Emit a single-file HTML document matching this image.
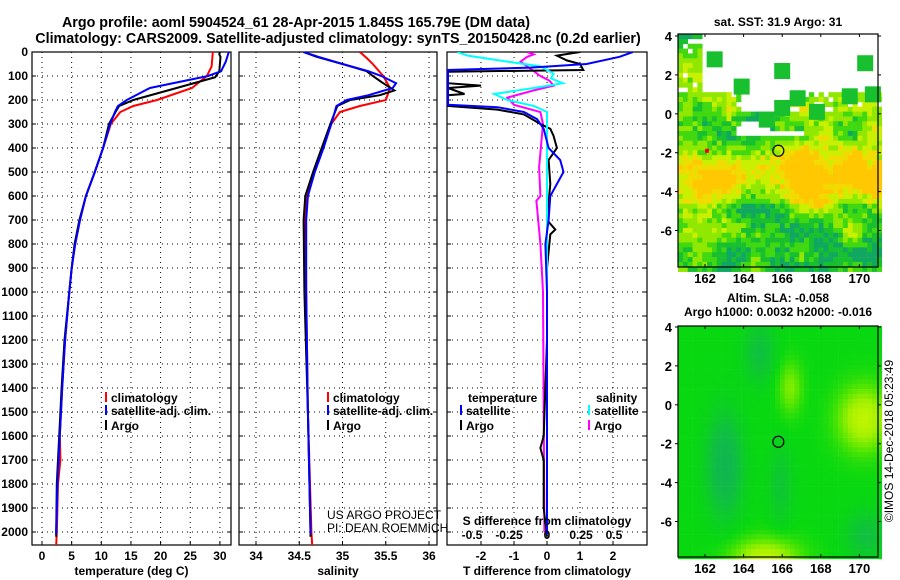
<!DOCTYPE html>
<html><head><meta charset="utf-8"><style>
body{margin:0;background:#fff}
svg{display:block;font-family:"Liberation Sans",sans-serif}
.t{font-weight:bold;font-size:12px}
.h{font-weight:bold;font-size:14.3px}
</style></head><body>
<svg id="s" width="900" height="580" viewBox="0 0 900 580"></svg>
<script>
// ---- data ----
const depthTicks=[0,100,200,300,400,500,600,700,800,900,1000,1100,1200,1300,1400,1500,1600,1700,1800,1900,2000];
const tempTicks=[0,5,10,15,20,25,30];
const salTicks=[34,34.5,35,35.5,36];
const tdTicks=[-2,-1,0,1,2];
const sdTickLabels=["-0.5","-0.25","0","0.25","0.5"];
const sdTicks=[-0.5,-0.25,0,0.25,0.5];
const lonTicks=[162,164,166,168,170];
const latTicks=[4,2,0,-2,-4,-6];

const tempClim=[[0,28.8],[60,28.6],[100,27.8],[150,25.3],[200,19.4],[225,15.4],[250,13.2],[300,11.6],[400,10.3],[500,8.9],[600,7.4],[700,6.4],[800,5.6],[900,5.0],[1000,4.6],[1200,3.9],[1400,3.4],[1600,3.0],[1700,3.1],[1800,2.7],[2000,2.5],[2055,2.4]];
const tempSat=[[0,31.5],[40,31],[80,30.2],[100,28],[150,18.2],[200,14.3],[225,12.8],[250,12.3],[300,11.5],[400,10.3],[500,8.9],[600,7.4],[700,6.4],[800,5.6],[900,5.0],[1000,4.6],[1200,3.9],[1400,3.4],[1600,3.0],[1800,2.6],[2000,2.4],[2010,2.4]];
const tempArgo=[[0,30],[10,29.9],[20,30.1],[80,29.9],[105,29.2],[150,22.7],[200,15.4],[225,13],[250,12.4],[300,11.3],[400,10.3],[500,8.9],[600,7.4],[700,6.3],[800,5.5],[900,5.0],[1000,4.6],[1200,3.8],[1400,3.3],[1600,2.9],[1800,2.5],[2000,2.4],[2020,2.4]];

const salClim=[[0,35.2],[25,35.28],[50,35.35],[100,35.47],[150,35.55],[200,35.5],[225,35.2],[250,34.97],[300,34.87],[400,34.77],[500,34.67],[600,34.59],[700,34.57],[1000,34.58],[1500,34.6],[2000,34.64],[2055,34.65]];
const salSat=[[0,34.55],[20,34.72],[50,35.0],[80,35.3],[100,35.45],[130,35.62],[150,35.58],[180,35.3],[200,35.05],[225,34.93],[300,34.87],[400,34.78],[500,34.68],[600,34.6],[700,34.58],[1000,34.58],[1500,34.6],[2000,34.63],[2010,34.63]];
const salArgo=[[0,34.55],[20,34.7],[50,35.0],[80,35.28],[100,35.35],[130,35.47],[160,35.6],[180,35.43],[200,35.09],[225,34.94],[300,34.86],[400,34.76],[500,34.66],[600,34.57],[700,34.55],[1000,34.56],[1500,34.6],[2000,34.63],[2020,34.63]];

const tdSat=[[0,2.6],[20,2.2],[50,1.2],[65,-0.5],[75,-3],[220,-3],[230,-1.5],[250,-0.7],[280,-0.3],[320,-0.1],[400,0.05],[450,0.4],[500,0.5],[550,0.3],[600,0.1],[700,0.05],[800,-0.05],[1000,0],[1500,0],[2010,0]];
const tdArgo=[[0,1.0],[15,0.3],[35,0.6],[50,1.0],[75,1.1],[82,-3],[130,-3],[140,-2],[150,-3],[175,-2.5],[180,-3],[225,-3],[240,-1.5],[260,-0.7],[300,-0.2],[320,0.1],[350,0.2],[400,0.3],[450,0.05],[550,0.1],[700,0],[740,0.25],[760,0.1],[900,0],[1200,0],[1600,-0.1],[1650,-0.2],[1700,-0.1],[1900,-0.1],[2020,0]];
const sdSat=[[0,-0.68],[15,-0.6],[40,-0.3],[60,-0.05],[90,0.05],[110,0.03],[130,0.12],[150,-0.1],[175,-0.4],[200,-0.3],[225,-0.1],[250,0],[300,0],[1000,0],[2010,0]];
const sdArgo=[[0,-0.15],[10,-0.1],[20,-0.15],[40,-0.2],[60,-0.15],[80,-0.1],[100,-0.05],[120,0.02],[140,0.05],[160,-0.1],[190,-0.3],[220,-0.25],[250,-0.05],[300,-0.03],[420,-0.05],[480,-0.06],[600,-0.05],[620,-0.08],[800,-0.05],[1000,-0.03],[2000,-0.02]];

// ---- helpers ----
const S=document.getElementById('s');const NS='http://www.w3.org/2000/svg';
function mk(tag,at,txt){const e=document.createElementNS(NS,tag);for(const k in at)e.setAttribute(k,at[k]);if(txt!==undefined)e.textContent=txt;S.appendChild(e);return e;}
const Y0=52,Y1=545;
const yD=d=>Y0+d*0.24;
const panels=[
 {l:32,r:231,x:v=>42+v*5.93,ticks:tempTicks,lab:"temperature (deg C)",name:"temperature"},
 {l:239,r:437,x:v=>256+(v-34)*86.5,ticks:salTicks,lab:"salinity",name:"salinity"},
 {l:447,r:647,x:v=>547+v*33,ticks:tdTicks,lab:"T difference from climatology",name:"difference"}];
panels.forEach((p,i)=>{
 const c=mk('clipPath',{id:'c'+i});
 const r=document.createElementNS(NS,'rect');r.setAttribute('x',p.l);r.setAttribute('y',Y0);r.setAttribute('width',p.r-p.l);r.setAttribute('height',Y1-Y0);c.appendChild(r);
 depthTicks.forEach(d=>{const l=mk('line',{x1:p.l,x2:p.r,y1:yD(d),y2:yD(d),stroke:'#000','stroke-width':1,'stroke-dasharray':'1,4'});
  
  mk('line',{x1:p.l,x2:p.l+4,y1:yD(d),y2:yD(d),stroke:'#000'});mk('line',{x1:p.r-4,x2:p.r,y1:yD(d),y2:yD(d),stroke:'#000'});});
 p.ticks.forEach(v=>{const x=p.x(v);const l=mk('line',{x1:x,x2:x,y1:Y0,y2:Y1,stroke:'#000','stroke-dasharray':'1,4'});
  
  mk('line',{x1:x,x2:x,y1:Y1-4,y2:Y1,stroke:'#000'});
  const t=mk('text',{x:x,y:560,'text-anchor':'middle',class:'t'},String(v));
  });
 const b=mk('rect',{x:p.l,y:Y0,width:p.r-p.l,height:Y1-Y0,fill:'none',stroke:'#000','stroke-width':1.2});
 
 const a=mk('text',{x:(p.l+p.r)/2,y:575,'text-anchor':'middle',class:'t'},p.lab);
 
});
depthTicks.forEach(d=>{const t=mk('text',{x:28,y:yD(d)+4,'text-anchor':'end',class:'t'},String(d));
 });
function line(arr,p,i,col,name,sc){
 const pts=arr.map(q=>p.x(q[1]*(sc||1)).toFixed(1)+','+yD(q[0]).toFixed(1)).join(' ');
 const e=mk('polyline',{points:pts,fill:'none',stroke:col,'stroke-width':2,'clip-path':'url(#c'+i+')'});
 }
line(tempClim,panels[0],0,'#f00','temp-climatology-line');
line(tempArgo,panels[0],0,'#000','temp-argo-line');
line(tempSat,panels[0],0,'#00f','temp-satellite-line');
line(salClim,panels[1],1,'#f00','sal-climatology-line');
line(salArgo,panels[1],1,'#000','sal-argo-line');
line(salSat,panels[1],1,'#00f','sal-satellite-line');
line(sdArgo,panels[2],2,'#f0f','sdiff-argo-line',4);
line(tdArgo,panels[2],2,'#000','tdiff-argo-line');
line(sdSat,panels[2],2,'#0ff','sdiff-satellite-line',4);
line(tdSat,panels[2],2,'#00f','tdiff-satellite-line');
const sdLabelX=[472,509,547,581,614];
sdTicks.forEach((v,k)=>{const t=mk('text',{x:sdLabelX[k],y:539,'text-anchor':'middle',class:'t'},sdTickLabels[k]);
 });
function txt(x,y,s,name,extra){const t=mk('text',Object.assign({x:x,y:y,class:'t'},extra||{}),s);
 return t;}
txt(547,525,'S difference from climatology','sdiff-axis-title',{'text-anchor':'middle'});
function leg(x,y,col,s,name){mk('line',{x1:x,x2:x,y1:y-10,y2:y,stroke:col,'stroke-width':2});txt(x+5,y,s,name);}
[[106,'temp'],[328,'sal']].forEach(([x,n])=>{leg(x,402,'#f00','climatology',n+'-legend-climatology');leg(x,415,'#00f','satellite-adj. clim.',n+'-legend-satellite');leg(x,430,'#000','Argo',n+'-legend-argo');});
txt(468,402,'temperature','tdiff-legend-title');leg(461,415,'#00f','satellite','tdiff-legend-satellite');leg(461,430,'#000','Argo','tdiff-legend-argo');
txt(596,402,'salinity','sdiff-legend-title');leg(589,415,'#0ff','satellite','sdiff-legend-satellite');leg(589,430,'#f0f','Argo','sdiff-legend-argo');
txt(327,519,'US ARGO PROJECT','credit-project',{style:'font-weight:normal'});
txt(327,532,'PI: DEAN ROEMMICH','credit-pi',{style:'font-weight:normal'});
const t1=mk('text',{x:296,y:27,'text-anchor':'middle',class:'h'},'Argo profile: aoml 5904524_61 28-Apr-2015 1.845S 165.79E (DM data)');

const t2=mk('text',{x:338,y:43,'text-anchor':'middle',class:'h'},'Climatology: CARS2009. Satellite-adjusted climatology: synTS_20150428.nc (0.2d earlier)');


// ---- maps ----
function hash(a,b){let h=(a*374761393+b*668265263)|0;h=(h^(h>>>13))*1274126177|0;return ((h^(h>>>16))>>>0)/4294967295;}
function smooth(i,j,s){const a=Math.floor(i/s),b=Math.floor(j/s),fx=i/s-a,fy=j/s-b;
 const v00=hash(a,b),v10=hash(a+1,b),v01=hash(a,b+1),v11=hash(a+1,b+1);
 return (v00*(1-fx)+v10*fx)*(1-fy)+(v01*(1-fx)+v11*fx)*fy;}
function lerpCol(stops,v){v=Math.max(0,Math.min(1,v));for(let k=1;k<stops.length;k++){if(v<=stops[k][0]){const a=stops[k-1],b=stops[k],f=(v-a[0])/(b[0]-a[0]);
 const c=a[1].map((q,n)=>Math.round(q+(b[1][n]-q)*f));return 'rgb('+c.join(',')+')';}}const l=stops[stops.length-1][1];return 'rgb('+l.join(',')+')';}
const slaStops=[[0,[16,170,96]],[0.3,[16,192,64]],[0.5,[8,216,16]],[0.7,[96,232,0]],[0.85,[160,240,0]],[1,[190,245,0]]];
function drawMap(top,kind,name){
 const L=678,R=878,T=top,B=top+(kind==='sst'?233:231);
 const ly0=(kind==='sst'?36:327);
 const lx=v=>705+(v-162)*19.3, ly=v=>ly0+(4-v)*19.45;
 const c=4.85;
 let i=0;
 for(let x=L;x<R;x+=c,i++){let j=0;for(let y=T;y<B;y+=c,j++){
  const lat=4-(y-ly0)/19.45, lon=162+(x-705)/19.3;
  let col;
  if(kind==='sst'){
   const r=hash(i,j), sm=smooth(i,j,5);
   if(lat>1.2 && !(lon<161.8 && r<0.85) ) continue;
   if(lat>0.2 && lat<=1.2 && (sm<0.5 || r<0.25) && !(lon<163.3)) continue;
   if(lat<=-0.2 && lat>-1.0 && lon>163.5 && lon<169 && sm<0.25) continue;
   const band=Math.exp(-Math.pow((lat+2.8)/1.4,2));
   const v=band*0.75+(sm-0.5)*0.9+(r-0.5)*0.35 - (lat<-4.5?0.15:0);
   col = v>0.55?'#ffc800':v>0.38?'#f0dc00':v>0.2?'#c8f000':v>0.02?'#90e800':v>-0.15?'#40d810':v>-0.3?'#18c030':'#10a860';
  } else {
   const b1=Math.exp(-(Math.pow((lon-170.1)/1.3,2)+Math.pow((lat+0.6)/1.6,2)));
   const b2=Math.exp(-(Math.pow((lon-165)/1.7,2)+Math.pow((lat+7.8)/1.0,2)));
   const b3=Math.exp(-(Math.pow((lon-166.3)/0.6,2)+Math.pow((lat-1.0)/1.3,2)))*0.55;
   const d1=Math.exp(-(Math.pow((lon-162.9)/0.9,2)+Math.pow((lat+3)/2.5,2)));
   const d2=Math.exp(-(Math.pow((lon-164.7)/0.8,2)+Math.pow((lat-2.8)/1.5,2)));
   const d3=Math.exp(-(Math.pow((lon-170.2)/1.0,2)+Math.pow((lat+6.6)/1.2,2)));
   const d4=Math.exp(-(Math.pow((lon-165.8)/0.6,2)+Math.pow((lat+4)/2,2)));
   const v=0.5+(b1+b2+b3)*0.5-(d1*0.35+d2*0.2+d3*0.2+d4*0.15);
   col=lerpCol(slaStops,v);
  }
  mk('rect',{x:x.toFixed(1),y:y.toFixed(1),width:c+0.3,height:c+0.3,fill:col});
 }}
 if(kind==='sst'){[[162.5,2.8],[166,2.2],[170.3,2.6],[163.9,1.4],[166.8,0.8],[169.5,0.9],[170.7,1.0],[165.2,-0.3],[166,0.3],[167.8,0.1]].forEach(q=>mk('rect',{x:lx(q[0])-8,y:ly(q[1])-8,width:16,height:16,fill:'#18c030'}));
  mk('rect',{x:lx(162),y:ly(-1.8),width:4,height:4,fill:'#f00'});}
 const fr=mk('rect',{x:L,y:T,width:R-L,height:B-T,fill:'none',stroke:'#000','stroke-width':1.2});
 
 lonTicks.forEach(v=>{mk('line',{x1:lx(v),x2:lx(v),y1:B,y2:B-3,stroke:'#000'});mk('line',{x1:lx(v),x2:lx(v),y1:T,y2:T+3,stroke:'#000'});
  txt(lx(v),B+16,String(v),name+'-lon-label',{'text-anchor':'middle',style:'font-size:13px'});});
 latTicks.forEach(v=>{mk('line',{x1:L,x2:L-3,y1:ly(v),y2:ly(v),stroke:'#000'});mk('line',{x1:R,x2:R+3,y1:ly(v),y2:ly(v),stroke:'#000'});
  txt(L-6,ly(v)+5,String(v),name+'-lat-label',{'text-anchor':'end',style:'font-size:13px'});});
 const m=mk('circle',{cx:lx(165.8),cy:ly(-1.9),r:5.5,fill:'none',stroke:'#000','stroke-width':1.2});
 
}
drawMap(34,'sst','sst-map');
drawMap(326,'sla','sla-map');
txt(778,26,'sat. SST: 31.9 Argo: 31','sst-map-title',{'text-anchor':'middle'});
txt(778,302,'Altim. SLA: -0.058','sla-map-title',{'text-anchor':'middle'});
txt(778,316,'Argo h1000: 0.0032 h2000: -0.016','sla-map-subtitle',{'text-anchor':'middle'});
txt(893,441,'©IMOS 14-Dec-2018 05:23:49','timestamp',{'text-anchor':'middle',transform:'rotate(-90 893 441)',style:'font-weight:normal;font-size:12px'});
</script>
</body></html>
